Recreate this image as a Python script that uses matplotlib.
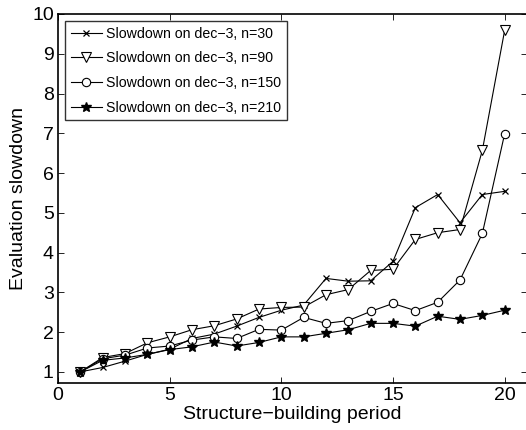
import matplotlib
matplotlib.use("Agg")
import matplotlib.pyplot as plt

plt.rcParams["font.family"] = ["Liberation Sans", "DejaVu Sans"]

periods = list(range(1, 21))
slow_n30 = [1.0, 1.11, 1.27, 1.44, 1.57, 1.84, 1.95, 2.15, 2.37, 2.55,
            2.68, 3.35, 3.28, 3.29, 3.78, 5.13, 5.46, 4.75, 5.46, 5.54]
slow_n90 = [1.0, 1.36, 1.46, 1.73, 1.88, 2.06, 2.16, 2.33, 2.58, 2.62,
            2.63, 2.94, 3.07, 3.55, 3.58, 4.33, 4.50, 4.58, 6.57, 9.59]
slow_n150 = [1.0, 1.33, 1.42, 1.60, 1.65, 1.80, 1.88, 1.84, 2.07, 2.05,
             2.37, 2.22, 2.29, 2.52, 2.72, 2.54, 2.75, 3.31, 4.48, 6.99]
slow_n210 = [1.0, 1.29, 1.35, 1.44, 1.56, 1.63, 1.75, 1.65, 1.74, 1.88,
             1.88, 1.97, 2.06, 2.22, 2.22, 2.15, 2.40, 2.32, 2.42, 2.55]
labels = ["Slowdown on dec\u22123, n=30", "Slowdown on dec\u22123, n=90",
          "Slowdown on dec\u22123, n=150", "Slowdown on dec\u22123, n=210"]

fig = plt.figure(figsize=(5.26, 4.30), dpi=100)
# right spine sits just outside the canvas, as in the reference crop
ax = fig.add_axes([58 / 526, 47 / 430, 469 / 526, 369 / 430])

style = dict(color="black", linewidth=0.8)
ax.plot(periods, slow_n30, marker="x", markersize=4, markeredgewidth=0.9,
        label=labels[0], **style)
ax.plot(periods, slow_n90, marker="v", markersize=6.5, markerfacecolor="white",
        markeredgewidth=0.8, label=labels[1], **style)
ax.plot(periods, slow_n150, marker="o", markersize=6, markerfacecolor="white",
        markeredgewidth=0.8, label=labels[2], **style)
ax.plot(periods, slow_n210, marker="*", markersize=7, markerfacecolor="black",
        label=labels[3], **style)

ax.set_xlim(0, 21)
ax.set_ylim(0.72, 10)
ax.set_xticks([0, 5, 10, 15, 20])
ax.set_yticks(range(1, 11))
ax.tick_params(direction="in", top=True, right=True, length=4, width=0.6,
               labelsize=14, pad=3)
for spine in ax.spines.values():
    spine.set_linewidth(1.2)

ax.set_xlabel("Structure\u2212building period", fontsize=14, labelpad=1)
ax.set_ylabel("Evaluation slowdown", fontsize=14, labelpad=4)

leg = ax.legend(loc="upper left", fontsize=10.2, frameon=True, fancybox=False,
                edgecolor="black", handlelength=2.2, handletextpad=0.3,
                borderpad=0.4, labelspacing=0.75, borderaxespad=0.5)
leg.get_frame().set_linewidth(1.0)

fig.savefig("out.png", dpi=100)
